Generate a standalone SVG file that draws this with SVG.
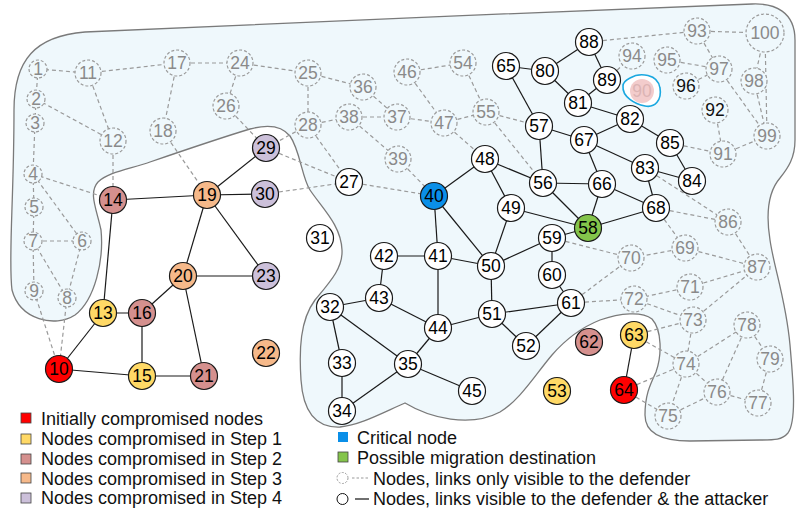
<svg xmlns="http://www.w3.org/2000/svg" width="798" height="512" viewBox="0 0 798 512">
<style>
.bg{fill:#eff8fc;stroke:#7a7a7a;stroke-width:1.3}
.e{stroke:#1a1a1a;stroke-width:1.2;fill:none}
.d{stroke:#9a9a9a;stroke-width:1.2;stroke-dasharray:4 3;fill:none}
.n circle{stroke:#1a1a1a;stroke-width:1.2}
.g circle{fill:#eff8fc;stroke:#9a9a9a;stroke-width:1.2;stroke-dasharray:3 2}
text{font-family:"Liberation Sans",Arial,sans-serif}
.n text,.g text{font-size:17.5px;text-anchor:middle}
.g text{fill:#8a8a8a}
.lg{font-size:18px;fill:#111}
.w{fill:#fff}.r{fill:#ff0000}.y{fill:#ffd966}.b{fill:#d5908e}.p{fill:#f6b98a}.v{fill:#ccc0da}.c{fill:#0a8fe8}.gr{fill:#84c44b}
</style>
<path class="bg" d="M 14 110 C 14 60, 35 36, 85 32 C 250 24, 550 12, 752 4 C 775 3, 795 12, 795 40 L 795 140 C 795 158, 788 168, 780 178 C 768 192, 766 215, 770 240 C 774 268, 786 300, 790 345 C 793 380, 797 420, 788 433 C 782 440, 775 440, 760 440 L 690 441 C 660 441, 645 432, 645 415 C 645 395, 650 385, 656 372 C 662 355, 662 330, 652 319 C 642 311, 620 313, 600 320 C 580 328, 565 340, 552 355 C 535 375, 520 400, 500 412 C 470 428, 430 418, 405 403 C 380 414, 360 425, 340 427 C 315 428, 303 410, 301 380 C 299 350, 300 320, 315 300 C 330 282, 343 268, 342 250 C 341 225, 322 208, 310 190 C 302 178, 300 150, 290 136 C 282 126, 268 124, 250 129 C 220 138, 185 150, 150 162 C 130 169, 108 172, 98 182 C 88 193, 97 210, 101 230 C 104 260, 95 300, 75 315 C 55 328, 20 320, 12 290 C 8 260, 14 200, 14 110 Z"/>
<path d="M 630 78 C 640 72, 658 74, 660 88 C 662 100, 655 108, 645 106 C 635 104, 622 97, 623 86 C 623 82, 626 80, 630 78 Z" fill="#ffffff" stroke="#1aa8e0" stroke-width="1.6"/>
<g id="connectors">
<g class="e">
<line x1="59" y1="369" x2="103" y2="313"/><line x1="59" y1="369" x2="142" y2="376"/><line x1="103" y1="313" x2="113" y2="200"/><line x1="103" y1="313" x2="142" y2="313"/><line x1="142" y1="376" x2="142" y2="313"/><line x1="142" y1="376" x2="204" y2="376"/><line x1="142" y1="313" x2="183" y2="276"/><line x1="113" y1="200" x2="207" y2="195"/><line x1="207" y1="195" x2="266" y2="148"/><line x1="207" y1="195" x2="265" y2="194"/><line x1="207" y1="195" x2="183" y2="276"/><line x1="207" y1="195" x2="266" y2="276"/><line x1="183" y1="276" x2="266" y2="276"/><line x1="183" y1="276" x2="204" y2="376"/>
<line x1="330" y1="307" x2="379" y2="298"/><line x1="330" y1="307" x2="342" y2="363"/><line x1="330" y1="307" x2="408" y2="364"/><line x1="342" y1="363" x2="342" y2="411"/><line x1="342" y1="411" x2="408" y2="364"/><line x1="408" y1="364" x2="438" y2="328"/><line x1="408" y1="364" x2="472" y2="391"/><line x1="384" y1="256" x2="379" y2="298"/><line x1="379" y1="298" x2="438" y2="328"/><line x1="438" y1="256" x2="384" y2="256"/><line x1="434" y1="196" x2="438" y2="256"/><line x1="438" y1="256" x2="438" y2="328"/><line x1="438" y1="256" x2="491" y2="266"/><line x1="434" y1="196" x2="485" y2="159"/><line x1="434" y1="196" x2="491" y2="266"/><line x1="485" y1="159" x2="511" y2="208"/><line x1="485" y1="159" x2="543" y2="183"/><line x1="511" y1="208" x2="491" y2="266"/><line x1="511" y1="208" x2="588" y2="228"/><line x1="491" y1="266" x2="492" y2="314"/><line x1="491" y1="266" x2="552" y2="238"/><line x1="438" y1="328" x2="492" y2="314"/><line x1="492" y1="314" x2="526" y2="346"/><line x1="492" y1="314" x2="571" y2="303"/><line x1="526" y1="346" x2="571" y2="303"/><line x1="552" y1="238" x2="552" y2="275"/><line x1="552" y1="275" x2="571" y2="303"/><line x1="552" y1="238" x2="588" y2="228"/>
<line x1="543" y1="183" x2="539" y2="126"/><line x1="543" y1="183" x2="602" y2="184"/><line x1="543" y1="183" x2="588" y2="228"/><line x1="539" y1="126" x2="506" y2="66"/><line x1="539" y1="126" x2="584" y2="140"/><line x1="506" y1="66" x2="545" y2="71"/><line x1="545" y1="71" x2="589" y2="42"/><line x1="545" y1="71" x2="578" y2="103"/><line x1="589" y1="42" x2="607" y2="80"/><line x1="578" y1="103" x2="607" y2="80"/><line x1="578" y1="103" x2="630" y2="119"/><line x1="630" y1="119" x2="584" y2="140"/><line x1="630" y1="119" x2="670" y2="143"/><line x1="670" y1="143" x2="692" y2="181"/><line x1="584" y1="140" x2="602" y2="184"/><line x1="584" y1="140" x2="645" y2="168"/><line x1="602" y1="184" x2="588" y2="228"/><line x1="602" y1="184" x2="656" y2="208"/><line x1="645" y1="168" x2="656" y2="208"/><line x1="645" y1="168" x2="692" y2="181"/><line x1="656" y1="208" x2="588" y2="228"/>
<line x1="634" y1="335" x2="624" y2="390"/>
</g>
<g class="d">
<line x1="38" y1="69" x2="36" y2="99"/><line x1="38" y1="69" x2="88" y2="73"/><line x1="36" y1="99" x2="35" y2="123"/><line x1="36" y1="99" x2="113" y2="141"/><line x1="35" y1="123" x2="33" y2="174"/><line x1="33" y1="174" x2="34" y2="207"/><line x1="33" y1="174" x2="82" y2="241"/><line x1="33" y1="174" x2="113" y2="200"/><line x1="34" y1="207" x2="33" y2="241"/><line x1="82" y1="241" x2="33" y2="241"/><line x1="82" y1="241" x2="67" y2="298"/><line x1="33" y1="241" x2="67" y2="298"/><line x1="33" y1="241" x2="34" y2="291"/><line x1="67" y1="298" x2="59" y2="369"/><line x1="34" y1="291" x2="59" y2="369"/><line x1="88" y1="73" x2="113" y2="141"/><line x1="88" y1="73" x2="177" y2="63"/><line x1="113" y1="141" x2="113" y2="200"/><line x1="177" y1="63" x2="240" y2="63"/><line x1="177" y1="63" x2="163" y2="131"/><line x1="163" y1="131" x2="207" y2="195"/><line x1="240" y1="63" x2="308" y2="73"/><line x1="240" y1="63" x2="226" y2="106"/><line x1="226" y1="106" x2="266" y2="148"/><line x1="308" y1="73" x2="363" y2="87"/><line x1="308" y1="73" x2="308" y2="125"/><line x1="308" y1="125" x2="349" y2="117"/><line x1="308" y1="125" x2="266" y2="148"/><line x1="308" y1="125" x2="349" y2="182"/><line x1="266" y1="148" x2="349" y2="182"/><line x1="265" y1="194" x2="349" y2="182"/><line x1="349" y1="182" x2="434" y2="196"/><line x1="363" y1="87" x2="397" y2="117"/><line x1="349" y1="117" x2="397" y2="117"/><line x1="349" y1="117" x2="398" y2="159"/><line x1="398" y1="159" x2="434" y2="196"/><line x1="397" y1="117" x2="444" y2="123"/><line x1="407" y1="72" x2="444" y2="123"/><line x1="407" y1="72" x2="463" y2="63"/><line x1="463" y1="63" x2="486" y2="112"/><line x1="444" y1="123" x2="486" y2="112"/><line x1="444" y1="123" x2="485" y2="159"/><line x1="486" y1="112" x2="539" y2="126"/><line x1="486" y1="112" x2="543" y2="183"/>
<line x1="589" y1="42" x2="697" y2="31"/><line x1="697" y1="31" x2="765" y2="33"/><line x1="697" y1="31" x2="719" y2="69"/><line x1="607" y1="80" x2="632" y2="56"/><line x1="667" y1="60" x2="719" y2="69"/><line x1="686" y1="86" x2="719" y2="69"/><line x1="719" y1="69" x2="767" y2="136"/><line x1="754" y1="81" x2="767" y2="136"/><line x1="765" y1="33" x2="754" y2="81"/><line x1="765" y1="33" x2="767" y2="136"/><line x1="715" y1="110" x2="723" y2="154"/><line x1="723" y1="154" x2="767" y2="136"/><line x1="670" y1="143" x2="723" y2="154"/>
<line x1="645" y1="168" x2="728" y2="222"/><line x1="656" y1="208" x2="728" y2="222"/><line x1="728" y1="222" x2="757" y2="267"/><line x1="656" y1="208" x2="685" y2="248"/><line x1="685" y1="248" x2="631" y2="258"/><line x1="685" y1="248" x2="757" y2="267"/><line x1="552" y1="238" x2="631" y2="258"/><line x1="571" y1="303" x2="631" y2="258"/><line x1="571" y1="303" x2="634" y2="299"/><line x1="690" y1="287" x2="634" y2="299"/><line x1="690" y1="287" x2="757" y2="267"/><line x1="634" y1="299" x2="693" y2="320"/><line x1="693" y1="320" x2="757" y2="267"/><line x1="634" y1="335" x2="693" y2="320"/><line x1="634" y1="335" x2="686" y2="364"/><line x1="693" y1="320" x2="686" y2="364"/><line x1="686" y1="364" x2="747" y2="325"/><line x1="747" y1="325" x2="717" y2="392"/><line x1="747" y1="325" x2="770" y2="359"/><line x1="770" y1="359" x2="758" y2="403"/><line x1="717" y1="392" x2="758" y2="403"/><line x1="686" y1="364" x2="717" y2="392"/><line x1="686" y1="364" x2="668" y2="416"/><line x1="668" y1="416" x2="717" y2="392"/><line x1="624" y1="390" x2="686" y2="364"/><line x1="624" y1="390" x2="668" y2="416"/>
</g>
</g>
<g id="n90"><circle cx="642" cy="91" r="12" fill="#f3cccc"/><text x="642" y="97" font-size="17.5" text-anchor="middle" fill="#dcb4b4">90</text></g>
<g class="g">
<g id="n1"><circle cx="38" cy="69" r="9"/><text x="38" y="75.3">1</text></g>
<g id="n2"><circle cx="36" cy="99" r="9"/><text x="36" y="105.3">2</text></g>
<g id="n3"><circle cx="35" cy="123" r="9"/><text x="35" y="129.3">3</text></g>
<g id="n4"><circle cx="33" cy="174" r="9"/><text x="33" y="180.3">4</text></g>
<g id="n5"><circle cx="34" cy="207" r="9"/><text x="34" y="213.3">5</text></g>
<g id="n6"><circle cx="82" cy="241" r="9"/><text x="82" y="247.3">6</text></g>
<g id="n7"><circle cx="33" cy="241" r="9"/><text x="33" y="247.3">7</text></g>
<g id="n8"><circle cx="67" cy="298" r="9"/><text x="67" y="304.3">8</text></g>
<g id="n9"><circle cx="34" cy="291" r="9"/><text x="34" y="297.3">9</text></g>
<g id="n11"><circle cx="88" cy="73" r="13"/><text x="88" y="79.3">11</text></g>
<g id="n12"><circle cx="113" cy="141" r="13"/><text x="113" y="147.3">12</text></g>
<g id="n17"><circle cx="177" cy="63" r="13"/><text x="177" y="69.3">17</text></g>
<g id="n18"><circle cx="163" cy="131" r="13"/><text x="163" y="137.3">18</text></g>
<g id="n24"><circle cx="240" cy="63" r="13"/><text x="240" y="69.3">24</text></g>
<g id="n25"><circle cx="308" cy="73" r="13"/><text x="308" y="79.3">25</text></g>
<g id="n26"><circle cx="226" cy="106" r="13"/><text x="226" y="112.3">26</text></g>
<g id="n28"><circle cx="308" cy="125" r="13"/><text x="308" y="131.3">28</text></g>
<g id="n36"><circle cx="363" cy="87" r="13"/><text x="363" y="93.3">36</text></g>
<g id="n38"><circle cx="349" cy="117" r="13"/><text x="349" y="123.3">38</text></g>
<g id="n37"><circle cx="397" cy="117" r="13"/><text x="397" y="123.3">37</text></g>
<g id="n39"><circle cx="398" cy="159" r="13"/><text x="398" y="165.3">39</text></g>
<g id="n46"><circle cx="407" cy="72" r="13"/><text x="407" y="78.3">46</text></g>
<g id="n54"><circle cx="463" cy="63" r="13"/><text x="463" y="69.3">54</text></g>
<g id="n47"><circle cx="444" cy="123" r="13"/><text x="444" y="129.3">47</text></g>
<g id="n55"><circle cx="486" cy="112" r="13"/><text x="486" y="118.3">55</text></g>
<g id="n93"><circle cx="697" cy="31" r="13"/><text x="697" y="37.3">93</text></g>
<g id="n100"><circle cx="765" cy="33" r="19"/><text x="765" y="39.3">100</text></g>
<g id="n94"><circle cx="632" cy="56" r="13"/><text x="632" y="62.3">94</text></g>
<g id="n95"><circle cx="667" cy="60" r="13"/><text x="667" y="66.3">95</text></g>
<g id="n97"><circle cx="719" cy="69" r="13"/><text x="719" y="75.3">97</text></g>
<g id="n98"><circle cx="754" cy="81" r="13"/><text x="754" y="87.3">98</text></g>
<g id="n96"><circle cx="686" cy="86" r="13"/><text x="686" y="92.3" style="fill:#111">96</text></g>
<g id="n92"><circle cx="715" cy="110" r="13"/><text x="715" y="116.3" style="fill:#111">92</text></g>
<g id="n99"><circle cx="767" cy="136" r="13"/><text x="767" y="142.3">99</text></g>
<g id="n91"><circle cx="723" cy="154" r="13"/><text x="723" y="160.3">91</text></g>
<g id="n86"><circle cx="728" cy="222" r="13"/><text x="728" y="228.3">86</text></g>
<g id="n69"><circle cx="685" cy="248" r="13"/><text x="685" y="254.3">69</text></g>
<g id="n70"><circle cx="631" cy="258" r="13"/><text x="631" y="264.3">70</text></g>
<g id="n87"><circle cx="757" cy="267" r="13"/><text x="757" y="273.3">87</text></g>
<g id="n71"><circle cx="690" cy="287" r="13"/><text x="690" y="293.3">71</text></g>
<g id="n72"><circle cx="634" cy="299" r="13"/><text x="634" y="305.3">72</text></g>
<g id="n73"><circle cx="693" cy="320" r="13"/><text x="693" y="326.3">73</text></g>
<g id="n78"><circle cx="747" cy="325" r="13"/><text x="747" y="331.3">78</text></g>
<g id="n79"><circle cx="770" cy="359" r="13"/><text x="770" y="365.3">79</text></g>
<g id="n74"><circle cx="686" cy="364" r="13"/><text x="686" y="370.3">74</text></g>
<g id="n76"><circle cx="717" cy="392" r="13"/><text x="717" y="398.3">76</text></g>
<g id="n77"><circle cx="758" cy="403" r="13"/><text x="758" y="409.3">77</text></g>
<g id="n75"><circle cx="668" cy="416" r="13"/><text x="668" y="422.3">75</text></g>
</g>
<g class="n">
<g id="n10"><circle class="r" cx="59" cy="369" r="13.5"/><text x="59" y="375.3">10</text></g>
<g id="n13"><circle class="y" cx="103" cy="313" r="13.5"/><text x="103" y="319.3">13</text></g>
<g id="n14"><circle class="b" cx="113" cy="200" r="13.5"/><text x="113" y="206.3">14</text></g>
<g id="n15"><circle class="y" cx="142" cy="376" r="13.5"/><text x="142" y="382.3">15</text></g>
<g id="n16"><circle class="b" cx="142" cy="313" r="13.5"/><text x="142" y="319.3">16</text></g>
<g id="n19"><circle class="p" cx="207" cy="195" r="13.5"/><text x="207" y="201.3">19</text></g>
<g id="n20"><circle class="p" cx="183" cy="276" r="13.5"/><text x="183" y="282.3">20</text></g>
<g id="n21"><circle class="b" cx="204" cy="376" r="13.5"/><text x="204" y="382.3">21</text></g>
<g id="n22"><circle class="p" cx="266" cy="353" r="13.5"/><text x="266" y="359.3">22</text></g>
<g id="n23"><circle class="v" cx="266" cy="276" r="13.5"/><text x="266" y="282.3">23</text></g>
<g id="n29"><circle class="v" cx="266" cy="148" r="13.5"/><text x="266" y="154.3">29</text></g>
<g id="n30"><circle class="v" cx="265" cy="194" r="13.5"/><text x="265" y="200.3">30</text></g>
<g id="n27"><circle class="w" cx="349" cy="182" r="13.5"/><text x="349" y="188.3">27</text></g>
<g id="n31"><circle class="w" cx="320" cy="238" r="13.5"/><text x="320" y="244.3">31</text></g>
<g id="n32"><circle class="w" cx="330" cy="307" r="13.5"/><text x="330" y="313.3">32</text></g>
<g id="n33"><circle class="w" cx="342" cy="363" r="13.5"/><text x="342" y="369.3">33</text></g>
<g id="n34"><circle class="w" cx="342" cy="411" r="13.5"/><text x="342" y="417.3">34</text></g>
<g id="n35"><circle class="w" cx="408" cy="364" r="13.5"/><text x="408" y="370.3">35</text></g>
<g id="n42"><circle class="w" cx="384" cy="256" r="13.5"/><text x="384" y="262.3">42</text></g>
<g id="n43"><circle class="w" cx="379" cy="298" r="13.5"/><text x="379" y="304.3">43</text></g>
<g id="n44"><circle class="w" cx="438" cy="328" r="13.5"/><text x="438" y="334.3">44</text></g>
<g id="n45"><circle class="w" cx="472" cy="391" r="13.5"/><text x="472" y="397.3">45</text></g>
<g id="n41"><circle class="w" cx="438" cy="256" r="13.5"/><text x="438" y="262.3">41</text></g>
<g id="n40"><circle class="c" cx="434" cy="196" r="13.5"/><text x="434" y="202.3">40</text></g>
<g id="n48"><circle class="w" cx="485" cy="159" r="13.5"/><text x="485" y="165.3">48</text></g>
<g id="n49"><circle class="w" cx="511" cy="208" r="13.5"/><text x="511" y="214.3">49</text></g>
<g id="n50"><circle class="w" cx="491" cy="266" r="13.5"/><text x="491" y="272.3">50</text></g>
<g id="n51"><circle class="w" cx="492" cy="314" r="13.5"/><text x="492" y="320.3">51</text></g>
<g id="n52"><circle class="w" cx="526" cy="346" r="13.5"/><text x="526" y="352.3">52</text></g>
<g id="n56"><circle class="w" cx="543" cy="183" r="13.5"/><text x="543" y="189.3">56</text></g>
<g id="n57"><circle class="w" cx="539" cy="126" r="13.5"/><text x="539" y="132.3">57</text></g>
<g id="n58"><circle class="gr" cx="588" cy="228" r="13.5"/><text x="588" y="234.3">58</text></g>
<g id="n59"><circle class="w" cx="552" cy="238" r="13.5"/><text x="552" y="244.3">59</text></g>
<g id="n60"><circle class="w" cx="552" cy="275" r="13.5"/><text x="552" y="281.3">60</text></g>
<g id="n61"><circle class="w" cx="571" cy="303" r="13.5"/><text x="571" y="309.3">61</text></g>
<g id="n62"><circle class="b" cx="589" cy="342" r="13.5"/><text x="589" y="348.3">62</text></g>
<g id="n63"><circle class="y" cx="634" cy="335" r="13.5"/><text x="634" y="341.3">63</text></g>
<g id="n64"><circle class="r" cx="624" cy="390" r="13.5"/><text x="624" y="396.3">64</text></g>
<g id="n53"><circle class="y" cx="557" cy="391" r="13.5"/><text x="557" y="397.3">53</text></g>
<g id="n65"><circle class="w" cx="506" cy="66" r="13.5"/><text x="506" y="72.3">65</text></g>
<g id="n80"><circle class="w" cx="545" cy="71" r="13.5"/><text x="545" y="77.3">80</text></g>
<g id="n81"><circle class="w" cx="578" cy="103" r="13.5"/><text x="578" y="109.3">81</text></g>
<g id="n88"><circle class="w" cx="589" cy="42" r="13.5"/><text x="589" y="48.3">88</text></g>
<g id="n89"><circle class="w" cx="607" cy="80" r="13.5"/><text x="607" y="86.3">89</text></g>
<g id="n82"><circle class="w" cx="630" cy="119" r="13.5"/><text x="630" y="125.3">82</text></g>
<g id="n67"><circle class="w" cx="584" cy="140" r="13.5"/><text x="584" y="146.3">67</text></g>
<g id="n66"><circle class="w" cx="602" cy="184" r="13.5"/><text x="602" y="190.3">66</text></g>
<g id="n83"><circle class="w" cx="645" cy="168" r="13.5"/><text x="645" y="174.3">83</text></g>
<g id="n84"><circle class="w" cx="692" cy="181" r="13.5"/><text x="692" y="187.3">84</text></g>
<g id="n85"><circle class="w" cx="670" cy="143" r="13.5"/><text x="670" y="149.3">85</text></g>
<g id="n68"><circle class="w" cx="656" cy="208" r="13.5"/><text x="656" y="214.3">68</text></g>
</g>
<g id="legend">
<rect class="r" x="21" y="413" width="10" height="10" stroke="#444" stroke-width="0.8"/><text class="lg" x="41" y="425">Initially compromised nodes</text>
<rect class="y" x="21" y="434" width="10" height="10" stroke="#444" stroke-width="0.8"/><text class="lg" x="41" y="445">Nodes compromised in Step 1</text>
<rect class="b" x="21" y="454" width="10" height="10" stroke="#444" stroke-width="0.8"/><text class="lg" x="41" y="465">Nodes compromised in Step 2</text>
<rect class="p" x="21" y="473" width="10" height="10" stroke="#444" stroke-width="0.8"/><text class="lg" x="41" y="484.5">Nodes compromised in Step 3</text>
<rect class="v" x="21" y="493" width="10" height="10" stroke="#444" stroke-width="0.8"/><text class="lg" x="41" y="504">Nodes compromised in Step 4</text>
<rect class="c" x="338" y="432" width="10" height="10"/><text class="lg" x="357" y="443.5">Critical node</text>
<rect class="gr" x="338" y="452" width="10" height="10" stroke="#444" stroke-width="0.8"/><text class="lg" x="357" y="464">Possible migration destination</text>
<circle cx="342.5" cy="478" r="5.5" fill="none" stroke="#9a9a9a" stroke-width="1" stroke-dasharray="2 1.5"/><line class="d" x1="352" y1="478" x2="368" y2="478" style="stroke-dasharray:2.5 2"/><text class="lg" x="373" y="484.5">Nodes, links only visible to the defender</text>
<circle cx="342.5" cy="499" r="5.5" fill="none" stroke="#111" stroke-width="1"/><line x1="355" y1="499" x2="369" y2="499" stroke="#111" stroke-width="1.2"/><text class="lg" x="373" y="505">Nodes, links visible to the defender &amp; the attacker</text>
</g>
</svg>
